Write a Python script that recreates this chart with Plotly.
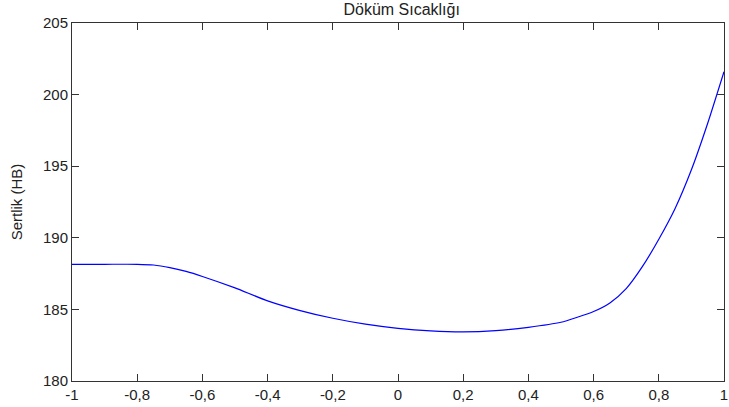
import plotly.graph_objects as go

x_vals = [-1.0, -0.9, -0.8, -0.75, -0.7, -0.65, -0.6, -0.5, -0.4, -0.3, -0.2, -0.1, 0.0,
          0.1, 0.2, 0.3, 0.4, 0.5, 0.55, 0.6, 0.65, 0.7, 0.75, 0.8, 0.85, 0.9, 0.95, 1.0]
y_vals = [188.15, 188.15, 188.15, 188.1, 187.92, 187.65, 187.3, 186.5, 185.6, 184.92, 184.38,
          183.97, 183.68, 183.5, 183.43, 183.52, 183.75, 184.1, 184.45, 184.85, 185.45, 186.45,
          188.0, 189.9, 192.05, 194.75, 198.0, 201.6]

x_ticks = [-1, -0.8, -0.6, -0.4, -0.2, 0, 0.2, 0.4, 0.6, 0.8, 1]
x_tick_labels = ["-1", "-0,8", "-0,6", "-0,4", "-0,2", "0", "0,2", "0,4", "0,6", "0,8", "1"]
y_ticks = [180, 185, 190, 195, 200, 205]

title_text = "Döküm Sıcaklığı"
y_title = "Sertlik (HB)"

FONT = "Liberation Sans, Arial, sans-serif"

fig = go.Figure()
fig.add_trace(go.Scatter(x=x_vals, y=y_vals, mode="lines",
                         line=dict(color="#0000FF", width=1.2, shape="spline", smoothing=0.6),
                         showlegend=False, hoverinfo="skip"))

axis_font = dict(family=FONT, size=15, color="#222222")

fig.update_layout(
    width=729, height=407,
    margin=dict(l=72, r=1, t=23, b=26),
    paper_bgcolor="white", plot_bgcolor="white",
    font=axis_font,
    title=dict(text=title_text, x=0.551, xanchor="center", y=0.99, yanchor="top",
               font=dict(family=FONT, size=16, color="#222222")),
    xaxis=dict(range=[-1, 1], tickvals=x_ticks, ticktext=x_tick_labels,
               showgrid=False, zeroline=False, showline=True, linecolor="#333333", linewidth=1,
               mirror="ticks", ticks="inside", ticklen=7, tickcolor="#333333",
               tickfont=axis_font, ticklabeloverflow="allow"),
    yaxis=dict(range=[180, 205], tickvals=y_ticks,
               showgrid=False, zeroline=False, showline=True, linecolor="#333333", linewidth=1,
               mirror="ticks", ticks="inside", ticklen=7, tickcolor="#333333",
               tickfont=axis_font, ticklabeloverflow="allow",
               title=dict(text=y_title, standoff=16,
                          font=dict(family=FONT, size=15, color="#222222"))),
)

fig.write_html("out.html")
